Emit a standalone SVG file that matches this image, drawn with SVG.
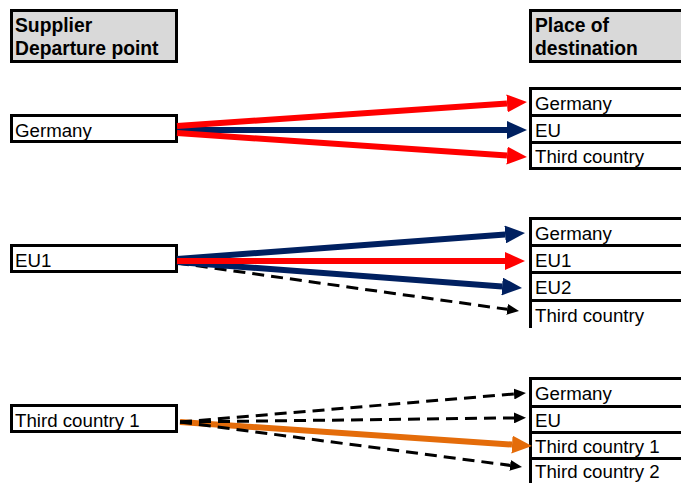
<svg xmlns="http://www.w3.org/2000/svg" width="681" height="483" viewBox="0 0 681 483">
<style>
text{font-family:"Liberation Sans",Arial,sans-serif;font-size:18.7px;fill:#000}
.hd{font-weight:bold;font-size:19.3px}
.box{fill:#fff;stroke:#000;stroke-width:3}
.hbox{fill:#d9d9d9;stroke:#000;stroke-width:3}
.row{fill:none;stroke:#000;stroke-width:3}
.red{stroke:#ff0000;stroke-width:6;fill:none}
.blue{stroke:#002060;stroke-width:6;fill:none}
.orange{stroke:#e46c0a;stroke-width:6;fill:none}
.dash{stroke:#000;stroke-width:3;fill:none;stroke-dasharray:12 7}
</style>
<defs>
<marker id="hRed" markerUnits="userSpaceOnUse" markerWidth="20" markerHeight="18" refX="0" refY="9" orient="auto"><path d="M0,0 L20,9 L0,18 z" fill="#ff0000"/></marker>
<marker id="hBlue" markerUnits="userSpaceOnUse" markerWidth="20" markerHeight="18" refX="0" refY="9" orient="auto"><path d="M0,0 L20,9 L0,18 z" fill="#002060"/></marker>
<marker id="hOrange" markerUnits="userSpaceOnUse" markerWidth="20" markerHeight="18" refX="0" refY="9" orient="auto"><path d="M0,0 L20,9 L0,18 z" fill="#e46c0a"/></marker>
<marker id="hBlack" markerUnits="userSpaceOnUse" markerWidth="12" markerHeight="11" refX="0" refY="5.5" orient="auto"><path d="M0,0 L12,5.5 L0,11 z" fill="#000"/></marker>
</defs>

<g id="hdr-supplier"><rect class="hbox" x="11.5" y="10.5" width="165" height="51"/><text class="hd" x="15" y="32">Supplier</text><text class="hd" x="15" y="55">Departure point</text></g>
<g id="hdr-destination"><rect class="hbox" x="530.5" y="10.5" width="160" height="51"/><text class="hd" x="535" y="32">Place of</text><text class="hd" x="535" y="55">destination</text></g>

<g id="src-germany"><rect class="box" x="11.5" y="115.5" width="165" height="26"/><text x="15" y="137">Germany</text></g>
<g id="src-eu1"><rect class="box" x="11.5" y="245.5" width="165" height="26"/><text x="15" y="267">EU1</text></g>
<g id="src-third1"><rect class="box" x="11.5" y="405.5" width="165" height="26"/><text x="15" y="427">Third country 1</text></g>

<g id="d1-germany"><path class="row" d="M681,88.5 H530.5 V115"/><text x="535" y="110">Germany</text></g>
<g id="d1-eu"><path class="row" d="M681,115.5 H530.5 V142"/><text x="535" y="137">EU</text></g>
<g id="d1-third"><path class="row" d="M681,142.5 H530.5 V168.5 H681"/><text x="535" y="163">Third country</text></g>

<g id="d2-germany"><path class="row" d="M681,218.5 H530.5 V245"/><text x="535" y="240">Germany</text></g>
<g id="d2-eu1"><path class="row" d="M681,245.5 H530.5 V272"/><text x="535" y="267">EU1</text></g>
<g id="d2-eu2"><path class="row" d="M681,272.5 H530.5 V300"/><text x="535" y="294">EU2</text></g>
<g id="d2-third"><path class="row" d="M681,300.5 H530.5 V328"/><text x="535" y="322">Third country</text></g>

<g id="d3-germany"><path class="row" d="M681,378.5 H530.5 V406"/><text x="535" y="400">Germany</text></g>
<g id="d3-eu"><path class="row" d="M681,406.5 H530.5 V432"/><text x="535" y="427">EU</text></g>
<g id="d3-third1"><path class="row" d="M681,432.5 H530.5 V458"/><text x="535" y="453">Third country 1</text></g>
<g id="d3-third2"><path class="row" d="M681,458.5 H530.5 V483"/><text x="535" y="478">Third country 2</text></g>

<g id="connectors">
<line class="blue" x1="177" y1="130" x2="507" y2="130" marker-end="url(#hBlue)"/>
<line class="red" x1="177" y1="126" x2="507" y2="103.4" marker-end="url(#hRed)"/>
<line class="red" x1="177" y1="133" x2="507" y2="155.6" marker-end="url(#hRed)"/>

<line class="dash" x1="177" y1="263" x2="507.1" y2="309.3" marker-end="url(#hBlack)"/>
<line class="blue" x1="177" y1="259" x2="505.1" y2="234.5" marker-end="url(#hBlue)"/>
<line class="blue" x1="177" y1="262" x2="502.1" y2="286.5" marker-end="url(#hBlue)"/>
<line class="red" x1="177" y1="261" x2="505" y2="261" marker-end="url(#hRed)"/>

<line class="orange" x1="180" y1="422" x2="512" y2="444.6" marker-end="url(#hOrange)"/>
<line class="dash" x1="180" y1="422" x2="514" y2="394" marker-end="url(#hBlack)"/>
<line class="dash" x1="180" y1="422" x2="514" y2="417.9" marker-end="url(#hBlack)"/>
<line class="dash" x1="180" y1="422" x2="510.1" y2="465.4" marker-end="url(#hBlack)"/>
</g>
</svg>
